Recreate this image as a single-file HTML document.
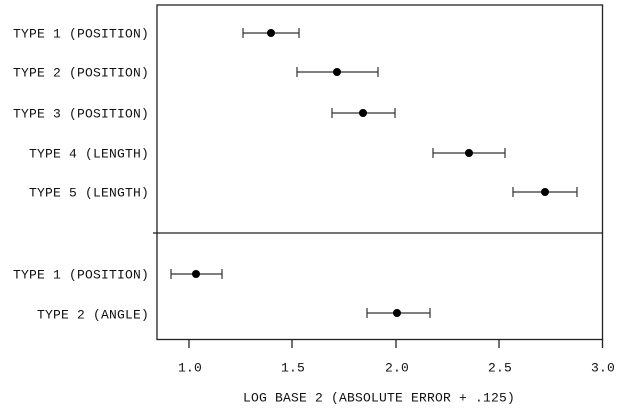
<!DOCTYPE html>
<html><head><style>body{margin:0;background:#fff}svg{display:block}</style></head>
<body>
<svg width="626" height="413" viewBox="0 0 626 413" xmlns="http://www.w3.org/2000/svg" font-family="Liberation Mono, monospace" font-size="13" fill="#111">
<g stroke="#222" stroke-width="1.3" fill="none">
<rect x="157" y="5" width="445.5" height="334.5"/>
<line x1="157" y1="233" x2="602.5" y2="233"/>
<line x1="153" y1="233" x2="157" y2="233"/>
<line x1="189" y1="339" x2="189" y2="348"/>
<line x1="292" y1="339" x2="292" y2="348"/>
<line x1="396" y1="339" x2="396" y2="348"/>
<line x1="499" y1="339" x2="499" y2="348"/>
<line x1="602.5" y1="339" x2="602.5" y2="348"/>
</g>
<g stroke="#333" stroke-width="1.2">
<path d="M243 33H299M243 28V38M299 28V38"/>
<path d="M297 72H378M297 67V77M378 67V77"/>
<path d="M332 113H395M332 108V118M395 108V118"/>
<path d="M433 153H505M433 148V158M505 148V158"/>
<path d="M513 192H577M513 187V197M577 187V197"/>
<path d="M171 274H222M171 269V279M222 269V279"/>
<path d="M367 313H430M367 308V318M430 308V318"/>
</g>
<g fill="#000">
<circle cx="271" cy="33" r="4"/>
<circle cx="337" cy="72" r="4"/>
<circle cx="363" cy="113" r="4"/>
<circle cx="469" cy="153" r="4"/>
<circle cx="545" cy="192" r="4"/>
<circle cx="196" cy="274" r="4"/>
<circle cx="397" cy="313" r="4"/>
</g>
<g text-anchor="end" letter-spacing="0.2">
<text x="149" y="37.5">TYPE 1 (POSITION)</text>
<text x="149" y="76.5">TYPE 2 (POSITION)</text>
<text x="149" y="117.5">TYPE 3 (POSITION)</text>
<text x="149" y="157.5">TYPE 4 (LENGTH)</text>
<text x="149" y="196.5">TYPE 5 (LENGTH)</text>
<text x="149" y="278.5">TYPE 1 (POSITION)</text>
<text x="149" y="318.5">TYPE 2 (ANGLE)</text>
</g>
<g text-anchor="middle" letter-spacing="0.2">
<text x="190" y="371.5">1.0</text>
<text x="293" y="371.5">1.5</text>
<text x="397" y="371.5">2.0</text>
<text x="500" y="371.5">2.5</text>
<text x="603" y="371.5">3.0</text>
<text x="379" y="401.5">LOG BASE 2 (ABSOLUTE ERROR + .125)</text>
</g>
</svg>
</body></html>
